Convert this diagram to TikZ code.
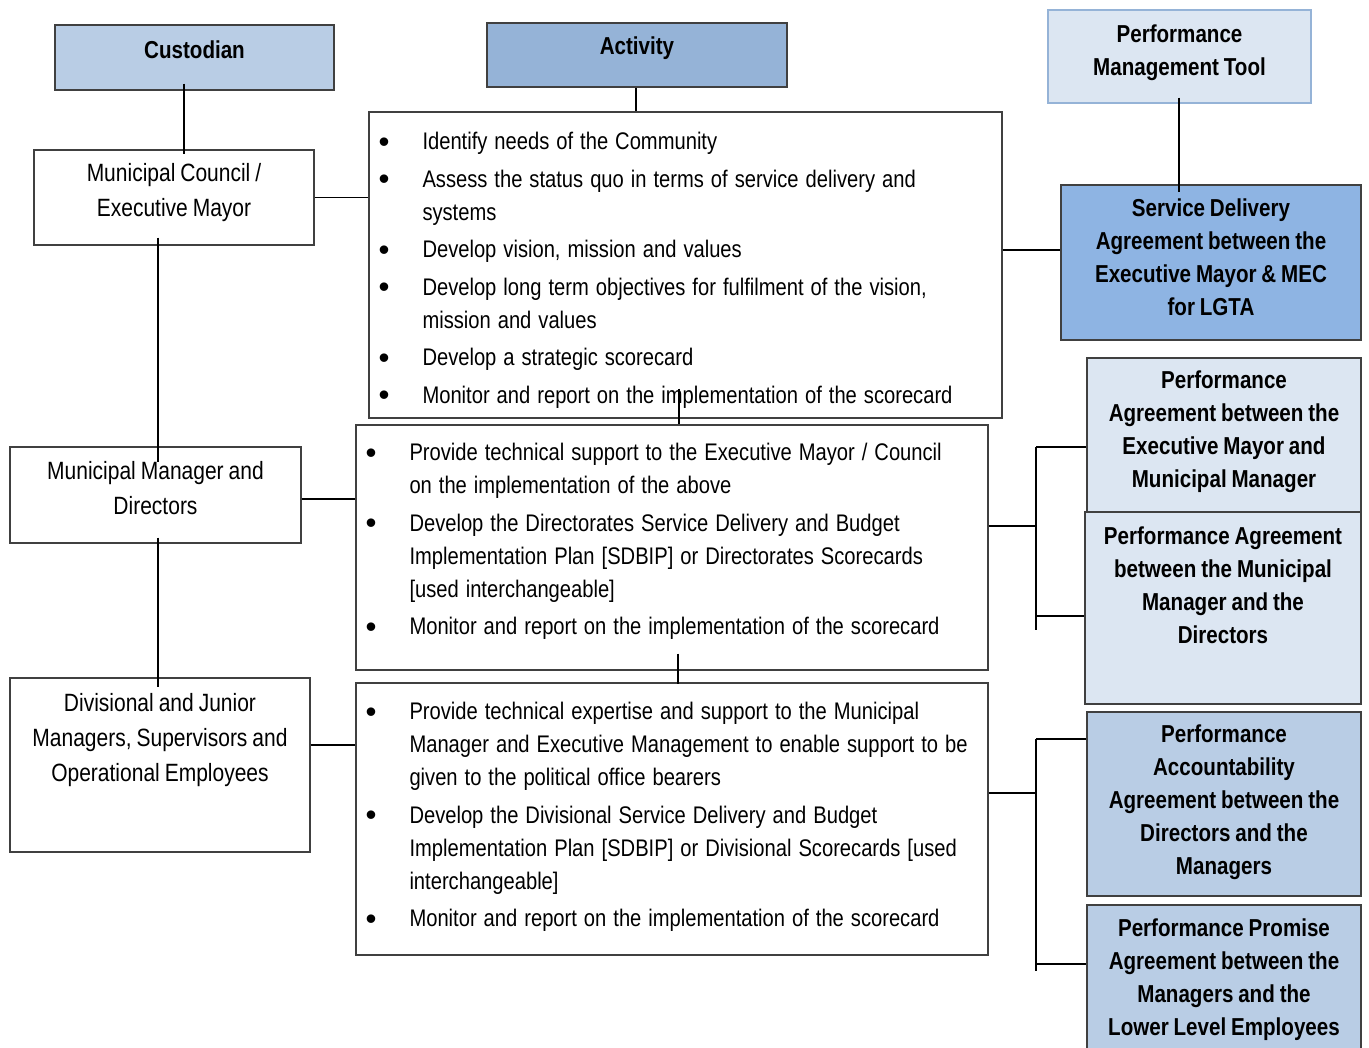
\documentclass[tikz,border=0pt]{standalone}
\usepackage{fontspec}
\setmainfont[FakeStretch=0.84,WordSpace=0.85]{Liberation Sans}
\usepackage{xcolor}
\usepackage{tikz}
\usetikzlibrary{calc,positioning}

\definecolor{headblue}{HTML}{B9CDE5}
\definecolor{actblue}{HTML}{95B3D7}
\definecolor{paleblue}{HTML}{DCE6F2}
\definecolor{sdblue}{HTML}{8EB4E3}
\definecolor{edgegray}{HTML}{404040}

\newcommand{\bodyfont}{\fontsize{24}{33}\selectfont}
\newcommand{\leftfont}{\fontsize{25}{35}\selectfont}
\newcommand{\boldfont}{\fontsize{24.5}{33}\selectfont\bfseries}
\newcommand{\bul}[1]{\hangindent=44pt\hangafter=1\noindent\makebox[44pt][l]{\raisebox{-2.6pt}{\scalebox{1.55}[1.3]{\textbullet}}}#1\par}
\newcommand{\listsetup}{\setlength{\parskip}{4.5pt}\spaceskip=7pt plus 2pt minus 1pt\relax}

\begin{document}
\begin{tikzpicture}[x=1pt,y=-1pt,
  every node/.style={font=\bodyfont},
  box/.style={draw=edgegray,line width=1.4pt,inner sep=0pt,align=center},
  bold/.style={font=\boldfont},
  who/.style={font=\leftfont},
  plain/.style={inner sep=0pt,align=center},
  listtext/.style={inner sep=0pt,text width=700pt},
  link/.style={line width=1.3pt}]
  \useasboundingbox (0,0) rectangle (1369,1048);

  % column heads
  \node[box,bold,fill=headblue,minimum width=279pt,minimum height=65pt,text depth=16pt] (cust) at (194.5,57.5) {Custodian};
  \node[box,bold,fill=actblue,minimum width=300pt,minimum height=64pt,text depth=18pt] (act) at (637,55) {Activity};
  \node[box,bold,fill=paleblue,draw=actblue,minimum width=263pt,minimum height=93pt,text depth=13pt] (pmt) at (1179.5,56.5) {Performance\\Management Tool};

  % custodians
  \node[box,who,minimum width=280pt,minimum height=95pt,text depth=16pt] (mc) at (174,197.5) {Municipal Council /\\Executive Mayor};
  \node[box,who,minimum width=291pt,minimum height=96pt,text depth=15pt] (mm) at (155.5,495) {Municipal Manager and\\Directors};
  \node[box,minimum width=300pt,minimum height=174pt] (div) at (160,765) {};
  \node[plain,who,below=16pt of div.north] (divt) {Divisional and Junior\\Managers, Supervisors and\\Operational Employees};

  % activities
  \node[box,minimum width=633pt,minimum height=306pt] (b1) at (685.5,265) {};
  \node[listtext,below right=21pt and 10pt of b1.north west] (b1t) {\listsetup
    \bul{Identify needs of the Community}
    \bul{Assess the status quo in terms of service delivery and\newline systems}
    \bul{Develop vision, mission and values}
    \bul{Develop long term objectives for fulfilment of the vision,\newline mission and values}
    \bul{Develop a strategic scorecard}
    \bul{Monitor and report on the implementation of the scorecard}};
  \node[box,minimum width=632pt,minimum height=245pt] (b2) at (672,547.5) {};
  \node[listtext,below right=19pt and 10pt of b2.north west] (b2t) {\listsetup
    \bul{Provide technical support to the Executive Mayor / Council\newline on the implementation of the above}
    \bul{Develop the Directorates Service Delivery and Budget\newline Implementation Plan [SDBIP] or Directorates Scorecards\newline [used interchangeable]}
    \bul{Monitor and report on the implementation of the scorecard}};
  \node[box,minimum width=632pt,minimum height=272pt] (b3) at (672,819) {};
  \node[listtext,below right=20pt and 10pt of b3.north west] (b3t) {\listsetup
    \bul{Provide technical expertise and support to the Municipal\newline Manager and Executive Management to enable support to be\newline given to the political office bearers}
    \bul{Develop the Divisional Service Delivery and Budget\newline Implementation Plan [SDBIP] or Divisional Scorecards [used\newline interchangeable]}
    \bul{Monitor and report on the implementation of the scorecard}};

  % tools
  \node[box,bold,fill=sdblue,minimum width=300pt,minimum height=155pt,text depth=10pt] (sda) at (1211,262.5) {Service Delivery\\Agreement between the\\Executive Mayor \& MEC\\for LGTA};
  \node[box,bold,fill=paleblue,minimum width=274pt,minimum height=154pt,text depth=12pt] (pa1) at (1224,435) {Performance\\Agreement between the\\Executive Mayor and\\Municipal Manager};
  \node[box,fill=paleblue,minimum width=276pt,minimum height=192pt] (pa2) at (1223,608) {};
  \node[plain,bold,below=15pt of pa2.north] (pa2t) {Performance Agreement\\between the Municipal\\Manager and the\\Directors};
  \node[box,bold,fill=headblue,minimum width=274pt,minimum height=184pt,text depth=8pt] (paa) at (1224,804) {Performance\\Accountability\\Agreement between the\\Directors and the\\Managers};
  \node[box,fill=headblue,minimum width=274pt,minimum height=160pt] (ppa) at (1224,985) {};
  \node[plain,bold,below=14pt of ppa.north] (ppat) {Performance Promise\\Agreement between the\\Managers and the\\Lower Level Employees};

  % vertical links
  \coordinate (j1) at (184,0);
  \coordinate (j2) at (636,0);
  \coordinate (j3) at (1179,0);
  \coordinate (j4) at (158,0);
  \coordinate (j5) at (679,0);
  \coordinate (j6) at (678,0);
  \draw[link,shorten <=-7pt,shorten >=-5pt] (cust.south -| j1) -- (mc.north -| j1);
  \draw[link] (act.south -| j2) -- (b1.north -| j2);
  \draw[link,shorten <=-6pt,shorten >=-8pt] (pmt.south -| j3) -- (sda.north -| j3);
  \draw[link,shorten <=-8pt,shorten >=-16pt] (mc.south -| j4) -- (mm.north -| j4);
  \draw[link,shorten <=-6pt,shorten >=-10pt] (mm.south -| j4) -- (div.north -| j4);
  \draw[link,shorten <=-30pt] (b1.south -| j5) -- (b2.north -| j5);
  \draw[link,shorten <=-17pt,shorten >=-2pt] (b2.south -| j6) -- (b3.north -| j6);

  % horizontal links
  \coordinate (h1) at (0,250);
  \coordinate (h2) at (0,499);
  \coordinate (h3) at (0,745);
  \draw[link] (mc.east) -- (mc.east -| b1.west);
  \draw[link] (b1.east |- h1) -- (sda.west |- h1);
  \draw[link] (mm.east |- h2) -- (b2.west |- h2);
  \draw[link] (div.east |- h3) -- (b3.west |- h3);

  % brackets to the agreements
  \draw[link] (b2.east |- 0,526) -- (1036,526);
  \draw[link] (1036,447) -- (1036,630);
  \draw[link] (b3.east |- 0,793) -- (1036,793);
  \draw[link] (1036,739) -- (1036,971);
  \foreach \yy/\bx in {447/pa1,616/pa2,739/paa,964/ppa}
    \draw[link] (1036,\yy) coordinate (t) -- (t -| \bx.west);
\end{tikzpicture}
\end{document}
